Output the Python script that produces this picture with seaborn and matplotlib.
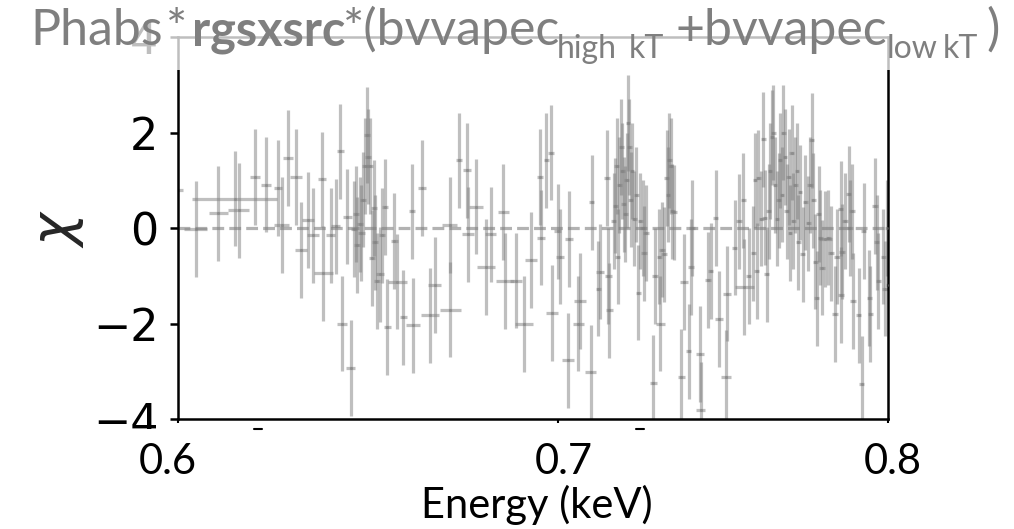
import numpy as np
import pandas as pd
import matplotlib
matplotlib.use("Agg")
import matplotlib.pyplot as plt
import seaborn as sns
from matplotlib.patches import Rectangle
from matplotlib.lines import Line2D
from matplotlib.ticker import NullLocator, FixedLocator, NullFormatter

# ---------------- data ----------------
energy = [
    0.5975, 0.6043, 0.6099, 0.6140, 0.6149, 0.6190, 0.6217, 0.6249, 0.6257, 0.6273,
    0.6293, 0.6306, 0.6325, 0.6337, 0.6360, 0.6364, 0.6383, 0.6396, 0.6408, 0.6412,
    0.6426, 0.6435, 0.6444, 0.6448, 0.6452, 0.6459, 0.6463, 0.6468, 0.6472, 0.6477,
    0.6481, 0.6486, 0.6490, 0.6495, 0.6499, 0.6505, 0.6512, 0.6516, 0.6524, 0.6531,
    0.6550, 0.6558, 0.6574, 0.6596, 0.6600, 0.6624, 0.6645, 0.6658, 0.6698, 0.6700,
    0.6724, 0.6745, 0.6749, 0.6771, 0.6797, 0.6810, 0.6845, 0.6850, 0.6881, 0.6903,
    0.6922, 0.6948, 0.6950, 0.6966, 0.6978, 0.6982, 0.6998, 0.7005, 0.7029, 0.7027,
    0.7057, 0.7061, 0.7092, 0.7095, 0.7114, 0.7119, 0.7139, 0.7143, 0.7146, 0.7158,
    0.7163, 0.7167, 0.7170, 0.7175, 0.7180, 0.7184, 0.7188, 0.7192, 0.7196, 0.7200,
    0.7204, 0.7208, 0.7212, 0.7218, 0.7224, 0.7230, 0.7236, 0.7243, 0.7247, 0.7254,
    0.7274, 0.7279, 0.7292, 0.7295, 0.7300, 0.7306, 0.7314, 0.7318, 0.7322, 0.7326,
    0.7331, 0.7336, 0.7357, 0.7364, 0.7379, 0.7386, 0.7389, 0.7413, 0.7415, 0.7438,
    0.7445, 0.7461, 0.7471, 0.7491, 0.7495, 0.7518, 0.7531, 0.7545, 0.7548, 0.7561,
    0.7575, 0.7580, 0.7585, 0.7591, 0.7600, 0.7606, 0.7610, 0.7616, 0.7622, 0.7627,
    0.7632, 0.7637, 0.7642, 0.7648, 0.7653, 0.7658, 0.7663, 0.7668, 0.7673, 0.7678,
    0.7684, 0.7689, 0.7694, 0.7699, 0.7705, 0.7710, 0.7715, 0.7720, 0.7728, 0.7736,
    0.7746, 0.7751, 0.7757, 0.7762, 0.7767, 0.7772, 0.7778, 0.7783, 0.7788, 0.7799,
    0.7809, 0.7817, 0.7830, 0.7836, 0.7848, 0.7850, 0.7852, 0.7862, 0.7873, 0.7878,
    0.7885, 0.7888, 0.7905, 0.7915, 0.7921, 0.7940, 0.7943, 0.7958, 0.7963, 0.7969,
    0.7985, 0.7991, 0.7998, 0.8002,
]
chi = [
    0.79, -0.02, 0.31, 0.62, 0.37, 1.07, 0.91, 0.84, 0.07, 1.47,
    1.07, -0.46, 0.17, -0.15, 1.02, -0.95, -0.15, 0.04, 1.61, -2.00,
    0.24, -2.93, -0.02, 0.30, -0.35, 0.08, -0.10, 0.60, 1.30, 1.95,
    1.50, 1.30, -0.63, 0.42, -0.30, -1.11, -0.97, -0.15, 0.44, -2.07,
    -0.27, -1.12, -1.87, 0.35, -2.04, 0.84, -1.83, -1.19, 0.07, -1.71,
    1.42, 1.21, -0.13, 0.45, -0.81, -0.13, 0.34, -1.11, -1.10, -2.01,
    -0.67, 1.07, -0.20, 1.42, 1.58, -1.78, -0.07, -0.60, -0.23, -2.77,
    -2.00, -1.53, -3.02, 0.54, -1.27, -0.91, 1.05, -1.00, -1.72, 0.15,
    0.47, 1.30, -0.60, 0.90, 1.70, 1.20, 0.50, 0.30, 1.00, 2.20,
    1.70, 0.60, 1.20, 0.20, 0.70, -1.35, 0.15, 0.00, -0.53, -0.10,
    -3.24, -1.00, -0.60, -2.00, -0.45, -0.55, 1.05, 0.70, 1.42, 1.30,
    0.35, 0.33, -3.11, -1.13, -2.58, -0.81, 0.00, -2.64, -3.81, -1.09,
    -0.90, 0.21, -1.90, -3.13, -1.37, -0.41, 0.14, 0.58, -1.23, -1.00,
    -0.53, 1.00, -0.90, 1.05, 0.20, 1.86, 0.22, -0.97, 0.35, 1.20,
    1.90, 2.00, 0.90, 0.20, 0.58, 1.42, 0.70, 2.00, 1.49, 0.35,
    1.07, -0.10, 1.58, 0.15, 0.90, 1.20, -0.30, 0.75, -0.55, 0.54,
    0.10, 0.90, 1.84, 0.58, -0.70, -1.47, 0.30, -0.20, -0.83, -0.23,
    -0.20, -0.53, -1.80, -0.60, 0.41, -1.40, -0.49, 0.15, 0.72, 0.00,
    0.35, -1.53, -1.83, -3.27, -0.06, -1.46, -1.80, 0.46, -0.30, -1.11,
    -0.60, -1.27, 0.00, -1.20,
]
energy_halfwidth = [
    0.0037, 0.0028, 0.0023, 0.0105, 0.0027, 0.0013, 0.0013, 0.0010, 0.0020, 0.0013,
    0.0015, 0.0015, 0.0015, 0.0015, 0.0010, 0.0024, 0.0012, 0.0012, 0.0010, 0.0012,
    0.0012, 0.0012, 0.0008, 0.0008, 0.0008, 0.0008, 0.0008, 0.0008, 0.0008, 0.0008,
    0.0008, 0.0008, 0.0008, 0.0008, 0.0008, 0.0008, 0.0010, 0.0008, 0.0008, 0.0010,
    0.0010, 0.0025, 0.0010, 0.0008, 0.0018, 0.0011, 0.0023, 0.0018, 0.0020, 0.0029,
    0.0009, 0.0010, 0.0016, 0.0019, 0.0024, 0.0016, 0.0015, 0.0024, 0.0016, 0.0026,
    0.0017, 0.0008, 0.0011, 0.0008, 0.0008, 0.0016, 0.0010, 0.0011, 0.0011, 0.0018,
    0.0015, 0.0018, 0.0016, 0.0008, 0.0008, 0.0012, 0.0008, 0.0010, 0.0010, 0.0008,
    0.0007, 0.0007, 0.0007, 0.0007, 0.0007, 0.0007, 0.0007, 0.0007, 0.0007, 0.0007,
    0.0007, 0.0007, 0.0007, 0.0007, 0.0007, 0.0007, 0.0007, 0.0007, 0.0008, 0.0009,
    0.0010, 0.0008, 0.0008, 0.0013, 0.0008, 0.0008, 0.0007, 0.0007, 0.0007, 0.0007,
    0.0007, 0.0007, 0.0011, 0.0012, 0.0008, 0.0008, 0.0008, 0.0013, 0.0014, 0.0009,
    0.0008, 0.0008, 0.0012, 0.0015, 0.0011, 0.0008, 0.0008, 0.0008, 0.0030, 0.0008,
    0.0008, 0.0007, 0.0007, 0.0007, 0.0007, 0.0007, 0.0007, 0.0008, 0.0007, 0.0007,
    0.0007, 0.0007, 0.0007, 0.0007, 0.0007, 0.0007, 0.0007, 0.0007, 0.0007, 0.0007,
    0.0007, 0.0007, 0.0007, 0.0007, 0.0007, 0.0007, 0.0007, 0.0007, 0.0008, 0.0008,
    0.0008, 0.0008, 0.0008, 0.0008, 0.0008, 0.0009, 0.0008, 0.0008, 0.0009, 0.0020,
    0.0009, 0.0009, 0.0009, 0.0009, 0.0009, 0.0009, 0.0009, 0.0009, 0.0009, 0.0009,
    0.0009, 0.0009, 0.0009, 0.0009, 0.0009, 0.0009, 0.0009, 0.0009, 0.0009, 0.0009,
    0.0009, 0.0009, 0.0009, 0.0009,
]
chi_error = 1.0  # residuals in units of sigma

y_ticks = [-4, -2, 0, 2, 4]
x_ticks = [0.6, 0.7, 0.8]
x_tick_labels = ["0.6", "0.7", "0.8"]
x_label = "Energy (keV)"
y_label = r"$\chi$"

df = pd.DataFrame({"energy": energy, "chi": chi, "dE": energy_halfwidth})

# ---------------- figure ----------------
sns.set_theme(style="ticks")
plt.rcParams["font.family"] = ["DejaVu Sans"]

W, H = 1014, 529
fig = plt.figure(figsize=(W / 100, H / 100), dpi=100)
fig.patch.set_facecolor("white")
ax = fig.add_axes([178 / W, 110 / H, 710 / W, 381.7 / H])
ax.set_facecolor("white")

GREY = "gray"
ax.axhline(0, ls="--", color=GREY, alpha=0.6, lw=2.3, zorder=1)
ax.errorbar(df["energy"], df["chi"], xerr=df["dE"], yerr=chi_error, fmt="none",
            ecolor=GREY, alpha=0.5, elinewidth=2.3, capsize=0, zorder=2)
sns.scatterplot(data=df, x="energy", y="chi", ax=ax, color=GREY, s=5,
                alpha=0.5, linewidth=0, zorder=3, legend=False)

ax.set_xscale("log")
ax.set_xlim(0.6, 0.8)
ax.set_ylim(-4, 4)
ax.xaxis.set_major_locator(NullLocator())
ax.xaxis.set_major_formatter(NullFormatter())
ax.xaxis.set_minor_locator(FixedLocator(x_ticks))
ax.xaxis.set_minor_formatter(NullFormatter())
ax.set_yticks(y_ticks)
ax.set_xlabel("")
ax.set_ylabel(y_label, fontsize=40, labelpad=5)
ax.tick_params(axis="y", which="major", labelsize=32, length=6, width=1.8,
               color="black", labelcolor="black", pad=8, left=True)
ax.tick_params(axis="x", which="minor", length=3, width=1.5, color="black", bottom=True)
ax.tick_params(axis="x", which="major", length=0)
for s in ax.spines.values():
    s.set_visible(True)
    s.set_color("black")
    s.set_linewidth(1.8)

# faded band at the top (title area)
fig.add_artist(Rectangle((0, 1 - 70 / H), 1, 70 / H, transform=fig.transFigure,
                         facecolor="white", alpha=0.75, edgecolor="none", zorder=5))
# white band covering the original tick labels
fig.add_artist(Rectangle((0, 0), 1, (H - 429) / H, transform=fig.transFigure,
                         facecolor="white", edgecolor="none", zorder=5))
# tops of the hidden tick labels peeking out
for xm in (258, 640):
    fig.add_artist(Line2D([(xm - 4) / W, (xm + 4) / W], [1 - 429 / H] * 2,
                          transform=fig.transFigure, color="black", lw=1.5,
                          zorder=6))

TFONT = ["Lato", "DejaVu Sans"]
TC = "#7f7f7f"
def ftxt(x, y, s, size, weight="normal", color=TC, ha="left"):
    fig.text(x / W, 1 - y / H, s, fontsize=size, fontweight=weight, color=color,
             family=TFONT, ha=ha, va="baseline", zorder=6)

ftxt(30, 45, "Phabs", 36)
ftxt(166, 45, "*", 36)
ftxt(192, 45, "rgsxsrc", 35, weight="bold")
ftxt(343, 45, "*(bvvapec", 36)
ftxt(557, 58, "high", 23)
ftxt(629, 58, "kT", 23)
ftxt(676, 45, "+bvvapec", 36)
ftxt(887, 58, "low", 23)
ftxt(943, 58, "kT", 23)
ftxt(986, 45, ")", 36)

for xc, lab in zip([168, 564, 893], x_tick_labels):
    ftxt(xc, 474, lab, 30, color="black", ha="center")
ftxt(537, 518, x_label, 30, color="black", ha="center")

fig.savefig("out.png", dpi=100, facecolor="white")
